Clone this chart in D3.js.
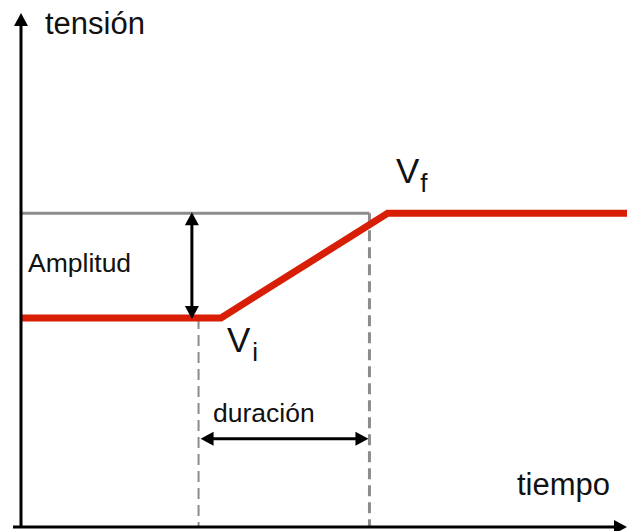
<!DOCTYPE html>
<html>
<head>
<meta charset="utf-8">
<script src="https://cdn.jsdelivr.net/npm/d3@7"></script>
<style>
  body { margin: 0; background: #fff; }
  text { font-family: "Liberation Sans", Arial, sans-serif; fill: #111; }
</style>
</head>
<body>
<svg id="chart" width="627" height="531"></svg>
<script>
// signal: time (ms) vs voltage (V)
const signalT = [0, 33, 60.5, 100];
const signalV = [4.1, 4.1, 6.15, 6.15];
// duration markers (start / end of the ramp)
const markerT = [29.3, 57.5];
// where the amplitude arrow sits
const amplitudeT = 28.2;
const labels = { y: "tensión", x: "tiempo", amp: "Amplitud", dur: "duración" };

const width = 627, height = 531;
const svg = d3.select("#chart");

const x = d3.scaleLinear().domain([0, 100]).range([21, 627]);
const y = d3.scaleLinear().domain([0, 10]).range([527, 17]);

const vi = signalV[0], vf = signalV[signalV.length - 1];

function arrowHead(g, tip, dir, size = 14, len = 13) {
    // dir: unit vector pointing toward tip
    const [tx, ty] = tip, [dx, dy] = dir;
    const bx = tx - dx * len, by = ty - dy * len;
    const px = -dy * size / 2, py = dx * size / 2;
    g.append("path")
        .attr("d", `M${tx},${ty}L${bx + px},${by + py}L${bx - px},${by - py}Z`)
        .attr("fill", "#000");
}

// reference line at final level
svg.append("line")
    .attr("x1", x(0)).attr("x2", x(markerT[1]))
    .attr("y1", y(vf)).attr("y2", y(vf))
    .attr("stroke", "#8c8c8c").attr("stroke-width", 3);

// dashed markers
svg.append("line")
    .attr("x1", x(markerT[0])).attr("x2", x(markerT[0]))
    .attr("y1", y(vi)).attr("y2", y(0))
    .attr("stroke", "#8c8c8c").attr("stroke-width", 2)
    .attr("stroke-dasharray", "11,6");
svg.append("line")
    .attr("x1", x(markerT[1])).attr("x2", x(markerT[1]))
    .attr("y1", y(vf)).attr("y2", y(0))
    .attr("stroke", "#8c8c8c").attr("stroke-width", 3)
    .attr("stroke-dasharray", "11,6");

// signal
const line = d3.line().x((d, i) => x(signalT[i])).y(d => y(d));
svg.append("path")
    .datum(signalV)
    .attr("d", line)
    .attr("fill", "none")
    .attr("stroke", "#d81e05")
    .attr("stroke-width", 7)
    .attr("stroke-linejoin", "miter");

// axes
const axes = svg.append("g");
axes.append("line")
    .attr("x1", x(0)).attr("x2", x(0))
    .attr("y1", y(0) + 1).attr("y2", 20)
    .attr("stroke", "#000").attr("stroke-width", 3);
arrowHead(axes, [x(0), 13], [0, -1]);
axes.append("line")
    .attr("x1", 13).attr("x2", width - 8)
    .attr("y1", y(0)).attr("y2", y(0))
    .attr("stroke", "#000").attr("stroke-width", 3);
arrowHead(axes, [width, y(0)], [1, 0]);

// amplitude arrow
const amp = svg.append("g");
amp.append("line")
    .attr("x1", x(amplitudeT)).attr("x2", x(amplitudeT))
    .attr("y1", y(vf) + 8).attr("y2", y(vi) - 8)
    .attr("stroke", "#000").attr("stroke-width", 3);
arrowHead(amp, [x(amplitudeT), y(vf) - 1], [0, -1]);
arrowHead(amp, [x(amplitudeT), y(vi) + 1], [0, 1]);

// duration arrow
const durY = y(1.73);
const dur = svg.append("g");
dur.append("line")
    .attr("x1", x(markerT[0]) + 8).attr("x2", x(markerT[1]) - 8)
    .attr("y1", durY).attr("y2", durY)
    .attr("stroke", "#000").attr("stroke-width", 3);
arrowHead(dur, [x(markerT[0]) + 2, durY], [-1, 0]);
arrowHead(dur, [x(markerT[1]) - 1, durY], [1, 0]);

// text
svg.append("text").attr("x", 45).attr("y", 34)
    .attr("font-size", 31).text(labels.y);
svg.append("text").attr("x", 517).attr("y", 495)
    .attr("font-size", 31).text(labels.x);
svg.append("text").attr("x", 28).attr("y", 272)
    .attr("font-size", 26.5).text(labels.amp);
svg.append("text").attr("x", 213).attr("y", 422)
    .attr("font-size", 26.5).text(labels.dur);

const vfText = svg.append("text").attr("x", 396).attr("y", 183).attr("font-size", 35);
vfText.append("tspan").text("V");
vfText.append("tspan").attr("font-size", 26).attr("dy", 9).attr("dx", 1).text("f");

const viText = svg.append("text").attr("x", 227).attr("y", 352).attr("font-size", 35);
viText.append("tspan").text("V");
viText.append("tspan").attr("font-size", 26).attr("dy", 9).attr("dx", 2).text("i");
</script>
</body>
</html>
